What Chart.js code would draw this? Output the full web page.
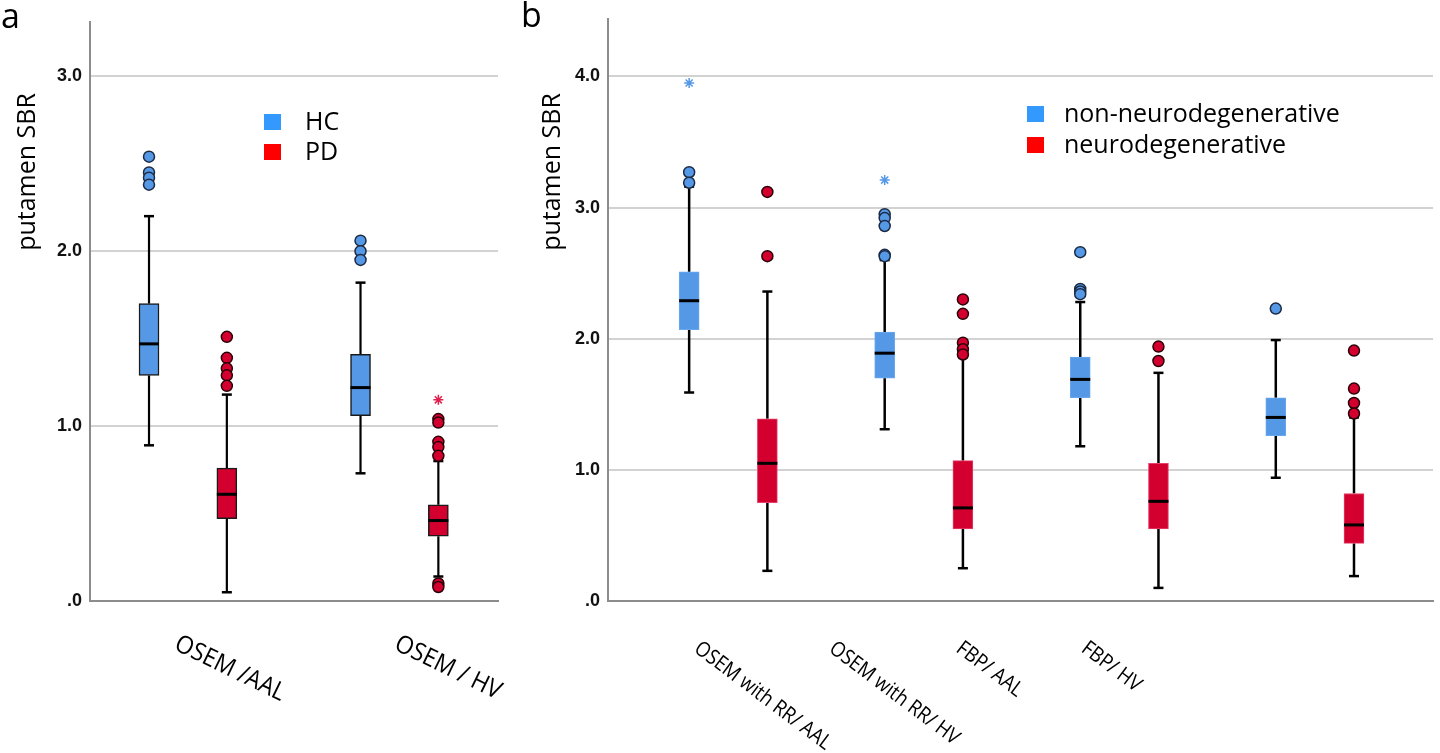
<!DOCTYPE html>
<html>
<head>
<meta charset="utf-8">
<title>putamen SBR box plots</title>
<script src="https://cdn.jsdelivr.net/npm/chart.js@4.4.0/dist/chart.umd.min.js"></script>
<style>
	html, body { margin: 0; padding: 0; background: #fff; }
	#wrapA { position: absolute; left: 0; top: 0; width: 520px; height: 753px; }
	#wrapB { position: absolute; left: 520px; top: 0; width: 920px; height: 753px; }
</style>
</head>
<body>
<div id="wrapA"><canvas id="panelA"></canvas></div>
<div id="wrapB"><canvas id="panelB"></canvas></div>
<script>
// ---- panel a : HC vs PD ----
const labelsA = ['OSEM /AAL', 'OSEM / HV'];
const hcMinA = [0.89, 0.73];
const hcQ1A = [1.29, 1.06];
const hcMedA = [1.47, 1.22];
const hcQ3A = [1.70, 1.41];
const hcMaxA = [2.20, 1.82];
const hcOutA = [[2.54, 2.45, 2.42, 2.38], [2.06, 2.00, 1.95]];
const hcExtA = [[], []];
const pdMinA = [0.05, 0.14];
const pdQ1A = [0.47, 0.37];
const pdMedA = [0.61, 0.46];
const pdQ3A = [0.76, 0.55];
const pdMaxA = [1.18, 0.80];
const pdOutA = [[1.51, 1.39, 1.33, 1.29, 1.23], [1.04, 1.02, 0.91, 0.88, 0.83, 0.10, 0.08]];
const pdExtA = [[], [1.15]];
const yTicksA = [0, 1, 2, 3];

// ---- panel b : non-neurodegenerative vs neurodegenerative ----
const labelsB = ['OSEM with RR/ AAL', 'OSEM with RR/ HV', 'FBP/ AAL', 'FBP/ HV'];
const hcMinB = [1.59, 1.31, 1.18, 0.94];
const hcQ1B = [2.07, 1.70, 1.55, 1.26];
const hcMedB = [2.29, 1.89, 1.69, 1.40];
const hcQ3B = [2.51, 2.05, 1.86, 1.55];
const hcMaxB = [3.16, 2.60, 2.28, 1.99];
const hcOutB = [[3.27, 3.19], [2.95, 2.92, 2.86, 2.64, 2.63], [2.66, 2.38, 2.36, 2.34], [2.23]];
const hcExtB = [[3.95], [3.21], [], []];
const pdMinB = [0.23, 0.25, 0.10, 0.19];
const pdQ1B = [0.75, 0.55, 0.55, 0.44];
const pdMedB = [1.05, 0.71, 0.76, 0.58];
const pdQ3B = [1.39, 1.07, 1.05, 0.82];
const pdMaxB = [2.36, 1.86, 1.74, 1.40];
const pdOutB = [[3.12, 2.63], [2.30, 2.19, 1.97, 1.92, 1.88], [1.94, 1.83], [1.91, 1.62, 1.51, 1.43]];
const pdExtB = [[], [], [], []];
const yTicksB = [0, 1, 2, 3, 4];

const blueBox = '#5599e6';
const redBox = '#d3002f';
const blueKey = '#3399ff';
const redKey = '#ff0000';

function boxDataset(label, offset, q1, q3, fill, border, bw) {
	return {
		type: 'bar',
		label: label,
		data: q1.map((v, i) => ({ x: i + offset, y: [v, q3[i]] })),
		backgroundColor: fill,
		borderColor: border,
		borderWidth: bw,
		borderSkipped: false,
		barThickness: 20,
		grouped: false,
		order: 3,
	};
}

function pointDataset(offset, groups, fill, border, style, radius) {
	const pts = [];
	groups.forEach((g, i) => g.forEach((v) => pts.push({ x: i + offset, y: v })));
	return {
		type: 'scatter',
		data: pts,
		pointStyle: style,
		pointRadius: radius,
		pointBackgroundColor: fill,
		pointBorderColor: border,
		pointBorderWidth: 1.5,
		order: 1,
	};
}

// whiskers behind, medians on top of the boxes
const boxPlot = {
	id: 'boxPlot',
	beforeDatasetsDraw(chart, args, opts) {
		const ctx = chart.ctx;
		const ys = chart.scales.y;
		ctx.save();
		ctx.strokeStyle = '#000';
		opts.groups.forEach((g) => {
			chart.getDatasetMeta(g.ds).data.forEach((bar, i) => {
				const x = bar.x;
				const ends = [[g.q3[i], g.max[i]], [g.q1[i], g.min[i]]];
				ends.forEach(([from, to]) => {
					ctx.lineWidth = opts.lineWidth;
					ctx.beginPath();
					ctx.moveTo(x, ys.getPixelForValue(from));
					ctx.lineTo(x, ys.getPixelForValue(to));
					ctx.stroke();
					ctx.lineWidth = 2.5;
					ctx.beginPath();
					ctx.moveTo(x - 5, ys.getPixelForValue(to));
					ctx.lineTo(x + 5, ys.getPixelForValue(to));
					ctx.stroke();
				});
			});
		});
		ctx.restore();
	},
	afterDatasetsDraw(chart, args, opts) {
		const ctx = chart.ctx;
		const ys = chart.scales.y;
		ctx.save();
		ctx.strokeStyle = '#000';
		ctx.lineWidth = 3;
		opts.groups.forEach((g) => {
			chart.getDatasetMeta(g.ds).data.forEach((bar, i) => {
				const y = ys.getPixelForValue(g.med[i]);
				ctx.beginPath();
				ctx.moveTo(bar.x - bar.width / 2, y);
				ctx.lineTo(bar.x + bar.width / 2, y);
				ctx.stroke();
			});
		});
		ctx.restore();
	},
};

// panel letter, axis title, legend and slanted category names
const decor = {
	id: 'decor',
	afterDraw(chart, args, opts) {
		const ctx = chart.ctx;
		const xs = chart.scales.x;
		ctx.save();
		ctx.fillStyle = '#000';
		ctx.textAlign = 'left';
		ctx.textBaseline = 'alphabetic';
		ctx.font = '34px "Open Sans"';
		ctx.fillText(opts.letter, opts.letterPos[0], opts.letterPos[1]);

		ctx.save();
		ctx.translate(opts.titlePos[0], opts.titlePos[1]);
		ctx.rotate(-Math.PI / 2);
		ctx.font = '25px "Open Sans"';
		ctx.textAlign = 'center';
		ctx.textBaseline = 'middle';
		ctx.fillText('putamen SBR', 0, 0);
		ctx.restore();

		ctx.font = '25px "Open Sans"';
		opts.legend.items.forEach((it, i) => {
			const base = opts.legend.y + i * opts.legend.gap;
			ctx.fillStyle = it.color;
			ctx.fillRect(opts.legend.x, base - 16, 17, 16);
			ctx.fillStyle = '#000';
			ctx.fillText(it.text, opts.legend.textX, base);
		});

		// category names: a bit condensed, like the original's Calibri
		ctx.font = opts.xFont;
		opts.xLabels.forEach((t, i) => {
			ctx.save();
			ctx.translate(xs.getPixelForValue(opts.xLabelAt[i]), chart.chartArea.bottom + opts.xDy);
			ctx.rotate(opts.xAngle * Math.PI / 180);
			ctx.scale(opts.xStretch, 1);
			ctx.fillText(t, 0, 0);
			ctx.restore();
		});
		ctx.restore();
	},
};

function yAxis(max, ticks) {
	return {
		min: 0,
		max: max,
		afterBuildTicks: (s) => { s.ticks = ticks.map((v) => ({ value: v })); },
		ticks: {
			padding: 8,
			color: '#111',
			font: { family: '"Liberation Sans"', weight: 'bold', size: 18 },
			callback: (v) => (v === 0 ? '.0' : v.toFixed(1)),
		},
		grid: { color: '#d2d2d2', lineWidth: 2, drawTicks: false },
		border: { color: '#8c8c8c', width: 2 },
	};
}

function xAxis(min, max) {
	return {
		type: 'linear',
		min: min,
		max: max,
		offset: false,
		ticks: { display: false },
		grid: { display: false },
		border: { color: '#8c8c8c', width: 2 },
		afterFit: (s) => { s.height = 152; },
	};
}

const config_a = {
	type: 'bar',
	data: {
		datasets: [
			boxDataset('HC', -0.184, hcQ1A, hcQ3A, blueBox, '#1a1a1a', 1.5),
			boxDataset('PD', 0.184, pdQ1A, pdQ3A, redBox, '#1a1a1a', 1.5),
			pointDataset(-0.184, hcOutA, blueBox, '#1c2a44', 'circle', 5.5),
			pointDataset(0.184, pdOutA, redBox, '#2a0008', 'circle', 5.5),
			pointDataset(-0.184, hcExtA, blueBox, blueBox, 'star', 5),
			pointDataset(0.184, pdExtA, '#e0204f', '#e0204f', 'star', 5),
		],
	},
	options: {
		responsive: true,
		maintainAspectRatio: false,
		animation: false,
		events: [],
		layout: { padding: { left: 0, right: 22, top: 22, bottom: 0 } },
		scales: {
			x: xAxis(-0.463, 1.466),
			y: Object.assign(yAxis(3.31, yTicksA), { afterFit: (s) => { s.width = 90; } }),
		},
		plugins: {
			legend: { display: false },
			tooltip: { enabled: false },
			boxPlot: {
				lineWidth: 2.2,
				groups: [
					{ ds: 0, q1: hcQ1A, q3: hcQ3A, med: hcMedA, min: hcMinA, max: hcMaxA },
					{ ds: 1, q1: pdQ1A, q3: pdQ3A, med: pdMedA, min: pdMinA, max: pdMaxA },
				],
			},
			decor: {
				letter: 'a',
				letterPos: [1, 28],
				titlePos: [28, 172],
				legend: {
					x: 264, textX: 305, y: 130, gap: 30,
					items: [{ text: 'HC', color: blueKey }, { text: 'PD', color: redKey }],
				},
				xLabels: labelsA,
				xLabelAt: [-0.07, 0.97],
				xDy: 48,
				xAngle: 26,
				xStretch: 0.92,
				xFont: '25px "Open Sans"',
			},
		},
	},
	plugins: [boxPlot, decor],
};

const config_b = {
	type: 'bar',
	data: {
		datasets: [
			boxDataset('non-neurodegenerative', -0.2, hcQ1B, hcQ3B, blueBox, '#6aa8ee', 1),
			boxDataset('neurodegenerative', 0.2, pdQ1B, pdQ3B, redBox, '#e4406a', 1),
			pointDataset(-0.2, hcOutB, blueBox, '#1c2a44', 'circle', 5.5),
			pointDataset(0.2, pdOutB, redBox, '#2a0008', 'circle', 5.5),
			pointDataset(-0.2, hcExtB, blueBox, blueBox, 'star', 5),
			pointDataset(0.2, pdExtB, '#e0204f', '#e0204f', 'star', 5),
		],
	},
	options: {
		responsive: true,
		maintainAspectRatio: false,
		animation: false,
		events: [],
		layout: { padding: { left: 0, right: 5, top: 13, bottom: 0 } },
		scales: {
			x: xAxis(-0.615, 3.604),
			y: Object.assign(yAxis(4.44, yTicksB), { afterFit: (s) => { s.width = 88; } }),
		},
		plugins: {
			legend: { display: false },
			tooltip: { enabled: false },
			boxPlot: {
				lineWidth: 2.5,
				groups: [
					{ ds: 0, q1: hcQ1B, q3: hcQ3B, med: hcMedB, min: hcMinB, max: hcMaxB },
					{ ds: 1, q1: pdQ1B, q3: pdQ3B, med: pdMedB, min: pdMinB, max: pdMaxB },
				],
			},
			decor: {
				letter: 'b',
				letterPos: [1, 27],
				titlePos: [33, 172],
				legend: {
					x: 507, textX: 544, y: 122, gap: 31,
					items: [{ text: 'non-neurodegenerative', color: blueKey }, { text: 'neurodegenerative', color: redKey }],
				},
				xLabels: labelsB,
				xLabelAt: [-0.18, 0.51, 1.16, 1.8],
				xDy: 50,
				xAngle: 37,
				xStretch: 0.88,
				xFont: '21px "Open Sans"',
			},
		},
	},
	plugins: [boxPlot, decor],
};

const chartA = new Chart(document.getElementById('panelA'), config_a);
const chartB = new Chart(document.getElementById('panelB'), config_b);
</script>
</body>
</html>
